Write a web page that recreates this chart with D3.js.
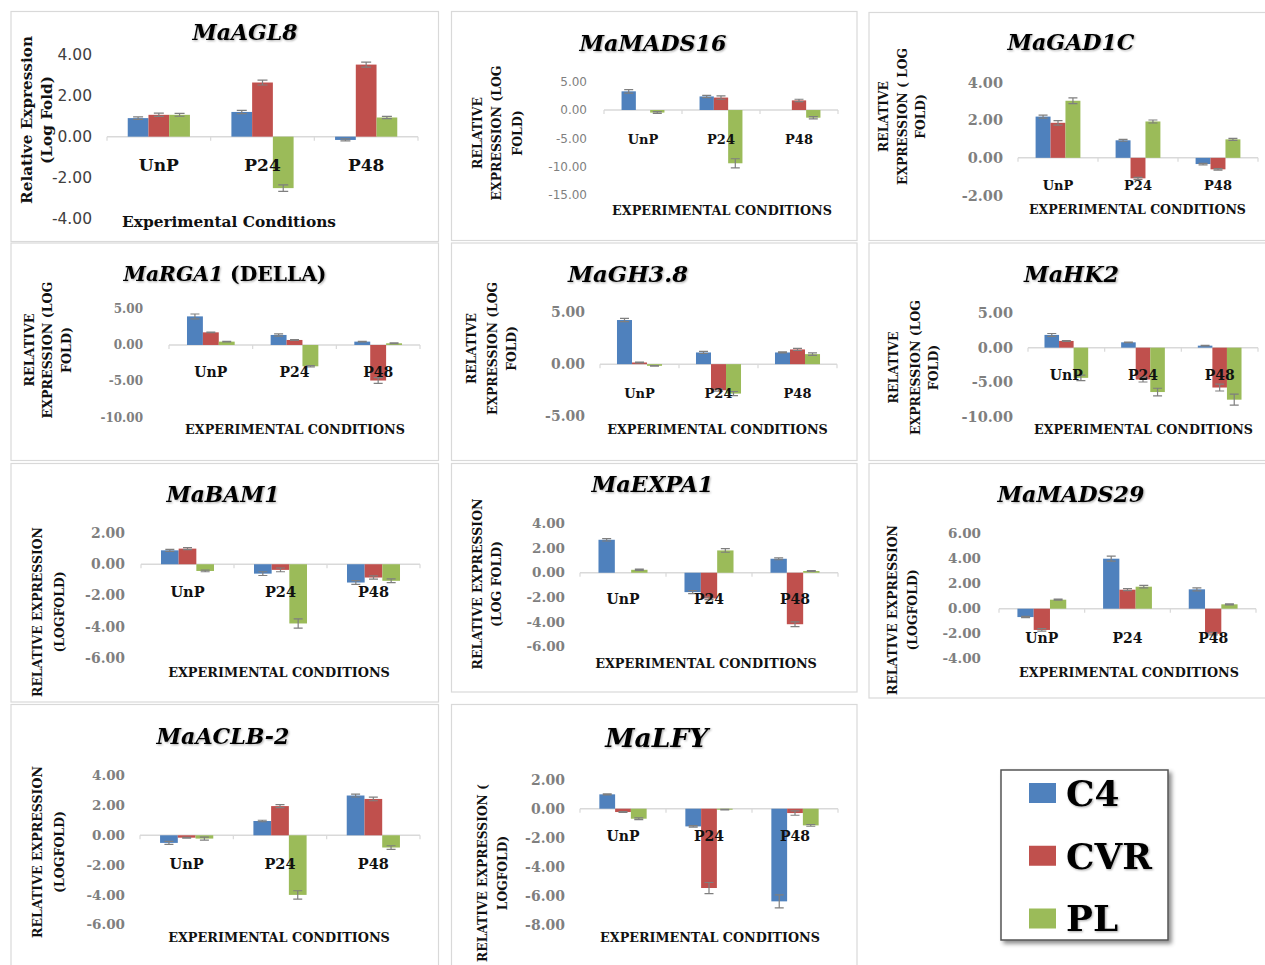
<!DOCTYPE html>
<html>
<head>
<meta charset="utf-8">
<script src="https://cdn.jsdelivr.net/npm/d3@7"></script>
<style>
  html, body { margin: 0; padding: 0; background: #ffffff; }
  svg { display: block; }
</style>
</head>
<body>
<svg id="chart" width="1265" height="965"></svg>
<script>
// Conditions (x categories) and treatment series
const conditions = ["UnP", "P24", "P48"];
const seriesNames = ["C4", "CVR", "PL"];
const seriesColors = ["#4F81BD", "#C0504D", "#9BBB59"];

// Relative expression (log fold). Rows: C4, CVR, PL; columns: UnP, P24, P48
const MaAGL8      = [[0.90, 1.20, -0.16], [1.06, 2.63, 3.50], [1.06, -2.50, 0.93]];
const MaAGL8Err   = [[0.06, 0.08, 0.05], [0.08, 0.12, 0.12], [0.07, 0.16, 0.05]];
const MaAGL8Ticks = [4, 2, 0, -2, -4];

const MaMADS16      = [[3.30, 2.40, 0.00], [0.00, 2.20, 1.70], [-0.45, -9.40, -1.35]];
const MaMADS16Err   = [[0.30, 0.20, 0.00], [0.00, 0.30, 0.20], [0.15, 0.80, 0.20]];
const MaMADS16Ticks = [5, 0, -5, -10, -15];

const MaGAD1C      = [[2.19, 0.93, -0.33], [1.86, -1.09, -0.61], [3.03, 1.93, 0.98]];
const MaGAD1CErr   = [[0.08, 0.05, 0.04], [0.12, 0.05, 0.04], [0.15, 0.08, 0.05]];
const MaGAD1CTicks = [4, 2, 0, -2];

const MaRGA1      = [[3.94, 1.38, 0.46], [1.74, 0.69, -4.90], [0.46, -2.94, 0.23]];
const MaRGA1Err   = [[0.33, 0.15, 0.05], [0.05, 0.05, 0.40], [0.05, 0.10, 0.05]];
const MaRGA1Ticks = [5, 0, -5, -10];

const MaGH38      = [[4.23, 1.12, 1.12], [0.16, -2.50, 1.41], [-0.16, -2.82, 0.96]];
const MaGH38Err   = [[0.15, 0.10, 0.05], [0.03, 0.10, 0.10], [0.03, 0.20, 0.12]];
const MaGH38Ticks = [5, 0, -5];

const MaHK2      = [[1.84, 0.77, 0.29], [0.97, -4.60, -5.75], [-4.35, -6.40, -7.50]];
const MaHK2Err   = [[0.20, 0.05, 0.03], [0.05, 0.35, 0.50], [0.40, 0.55, 0.80]];
const MaHK2Ticks = [5, 0, -5, -10];

const MaBAM1      = [[0.89, -0.60, -1.17], [1.00, -0.36, -0.85], [-0.43, -3.79, -1.06]];
const MaBAM1Err   = [[0.06, 0.12, 0.12], [0.06, 0.12, 0.10], [0.05, 0.30, 0.12]];
const MaBAM1Ticks = [2, 0, -2, -4, -6];

const MaEXPA1      = [[2.69, -1.58, 1.14], [0.00, -2.10, -4.20], [0.24, 1.82, 0.14]];
const MaEXPA1Err   = [[0.10, 0.12, 0.08], [0.00, 0.10, 0.20], [0.05, 0.15, 0.03]];
const MaEXPA1Ticks = [4, 2, 0, -2, -4, -6];

const MaMADS29      = [[-0.67, 4.00, 1.55], [-1.70, 1.52, -2.00], [0.72, 1.76, 0.35]];
const MaMADS29Err   = [[0.05, 0.20, 0.12], [0.10, 0.08, 0.10], [0.04, 0.10, 0.04]];
const MaMADS29Ticks = [6, 4, 2, 0, -2, -4];

const MaACLB2      = [[-0.51, 0.96, 2.67], [-0.16, 1.96, 2.44], [-0.22, -4.00, -0.82]];
const MaACLB2Err   = [[0.10, 0.05, 0.10], [0.03, 0.10, 0.12], [0.10, 0.28, 0.12]];
const MaACLB2Ticks = [4, 2, 0, -2, -4, -6];

const MaLFY      = [[0.99, -1.22, -6.39], [-0.23, -5.47, -0.30], [-0.69, -0.07, -1.15]];
const MaLFYErr   = [[0.03, 0.05, 0.45], [0.03, 0.38, 0.15], [0.06, 0.02, 0.06]];
const MaLFYTicks = [2, 0, -2, -4, -6, -8];

const genes = [
  { title: [["MaAGL8", true]],                     mean: MaAGL8,   err: MaAGL8Err,   ticks: MaAGL8Ticks },
  { title: [["MaMADS16", true]],                   mean: MaMADS16, err: MaMADS16Err, ticks: MaMADS16Ticks },
  { title: [["MaGAD1C", true]],                    mean: MaGAD1C,  err: MaGAD1CErr,  ticks: MaGAD1CTicks },
  { title: [["MaRGA1", true], [" (DELLA)", false]], mean: MaRGA1,  err: MaRGA1Err,   ticks: MaRGA1Ticks },
  { title: [["MaGH3.8", true]],                    mean: MaGH38,   err: MaGH38Err,   ticks: MaGH38Ticks },
  { title: [["MaHK2", true]],                      mean: MaHK2,    err: MaHK2Err,    ticks: MaHK2Ticks },
  { title: [["MaBAM1", true]],                     mean: MaBAM1,   err: MaBAM1Err,   ticks: MaBAM1Ticks },
  { title: [["MaEXPA1", true]],                    mean: MaEXPA1,  err: MaEXPA1Err,  ticks: MaEXPA1Ticks },
  { title: [["MaMADS29", true]],                   mean: MaMADS29, err: MaMADS29Err, ticks: MaMADS29Ticks },
  { title: [["MaACLB-2", true]],                   mean: MaACLB2,  err: MaACLB2Err,  ticks: MaACLB2Ticks },
  { title: [["MaLFY", true]],                      mean: MaLFY,    err: MaLFYErr,    ticks: MaLFYTicks }
];

// Panel layout: frame, plot ranges, and text placement
const SERIF = "'DejaVu Serif', serif";
const SANS = "'DejaVu Sans', sans-serif";
const UP3 = ["RELATIVE", "EXPRESSION (LOG", "FOLD)"];
const XT = "EXPERIMENTAL CONDITIONS";
const panels = [
  { box: [11, 11.5, 438.5, 241.5], xr: [107, 418], yr: [219, 54.3], group: 0.6, cap: 10,
    tick: { right: 92, font: SANS, size: 15.5, weight: "normal", color: "#404040" },
    cat: { y: 165, size: 17 }, title: { x: 245, y: 32.5, w: 105 },
    ylab: { lines: ["Relative Expression", "(Log Fold)"], xs: [27, 47], cy: 120, fit: 0, len: 168 },
    xt: { text: "Experimental Conditions", x: 229, y: 222, w: 214 } },
  { box: [451.5, 11.5, 857, 240.5], xr: [604, 838], yr: [195, 81.7], group: 0.55, cap: 9,
    tick: { right: 587, font: SANS, size: 12, weight: "normal", color: "#7f7f7f" },
    cat: { y: 139, size: 13 }, title: { x: 653, y: 43, w: 147 },
    ylab: { lines: UP3, xs: [478, 497, 518], cy: 133, fit: 1, len: 135 },
    xt: { text: XT, x: 722, y: 211, w: 220 } },
  { box: [869, 12.5, 1275, 240.5], xr: [1018, 1258], yr: [195.5, 82.5], group: 0.56, cap: 9,
    tick: { right: 1003, font: SERIF, size: 14.5, weight: "bold", color: "#7f7f7f" },
    cat: { y: 185.7, size: 13 }, title: { x: 1071, y: 42.7, w: 127 },
    ylab: { lines: ["RELATIVE", "EXPRESSION ( LOG", "FOLD)"], xs: [884, 903, 921], cy: 116.5, fit: 1, len: 137 },
    xt: { text: XT, x: 1137.5, y: 210, w: 217 } },
  { box: [11, 243, 438.5, 460.5], xr: [169, 420], yr: [417.5, 308.7], group: 0.57, cap: 9,
    tick: { right: 143, font: SERIF, size: 12, weight: "bold", color: "#7f7f7f" },
    cat: { y: 372, size: 14 }, title: { x: 225, y: 274, w: 203 },
    ylab: { lines: UP3, xs: [30, 48, 67], cy: 350, fit: 1, len: 137 },
    xt: { text: XT, x: 295, y: 430, w: 220 } },
  { box: [451.5, 243, 857, 460.5], xr: [600, 837], yr: [416.3, 312], group: 0.57, cap: 9,
    tick: { right: 585, font: SERIF, size: 14, weight: "bold", color: "#7f7f7f" },
    cat: { y: 393.7, size: 13 }, title: { x: 628, y: 274.5, w: 120 },
    ylab: { lines: UP3, xs: [472, 493, 512], cy: 348.5, fit: 1, len: 133 },
    xt: { text: XT, x: 717.5, y: 430, w: 221 } },
  { box: [869, 243, 1275, 460.5], xr: [1028, 1258], yr: [417, 313], group: 0.57, cap: 9,
    tick: { right: 1013, font: SERIF, size: 14.5, weight: "bold", color: "#7f7f7f" },
    cat: { y: 375.3, size: 14 }, title: { x: 1071.5, y: 274.5, w: 95 },
    ylab: { lines: UP3, xs: [894, 916, 934], cy: 367.5, fit: 1, len: 135 },
    xt: { text: XT, x: 1143.5, y: 430, w: 219 } },
  { box: [11, 463.5, 438.5, 702], xr: [141, 420], yr: [658, 533], group: 0.57, cap: 9,
    tick: { right: 125, font: SERIF, size: 14, weight: "bold", color: "#7f7f7f" },
    cat: { y: 592, size: 14.5 }, title: { x: 223, y: 494.5, w: 113 },
    ylab: { lines: ["RELATIVE EXPRESSION", "(LOGFOLD)"], xs: [38, 60], cy: 612, fit: 0, len: 170 },
    xt: { text: XT, x: 279, y: 672.7, w: 222 } },
  { box: [451.5, 463.5, 857, 692], xr: [580, 838], yr: [646.3, 523.7], group: 0.57, cap: 9,
    tick: { right: 565, font: SERIF, size: 13.5, weight: "bold", color: "#7f7f7f" },
    cat: { y: 599.3, size: 14 }, title: { x: 652.5, y: 484.5, w: 122 },
    ylab: { lines: ["RELATIVE EXPRESSION", "(LOG FOLD)"], xs: [478, 497], cy: 584, fit: 0, len: 171 },
    xt: { text: XT, x: 706, y: 663.7, w: 222 } },
  { box: [869, 463.5, 1275, 698], xr: [999, 1256], yr: [658.7, 533.7], group: 0.57, cap: 9,
    tick: { right: 981, font: SERIF, size: 13.5, weight: "bold", color: "#7f7f7f" },
    cat: { y: 637.7, size: 14 }, title: { x: 1071, y: 494, w: 147 },
    ylab: { lines: ["RELATIVE EXPRESSION", "(LOGFOLD)"], xs: [893, 913], cy: 610, fit: 0, len: 170 },
    xt: { text: XT, x: 1129, y: 672.7, w: 220 } },
  { box: [11, 704.5, 438.5, 975], xr: [140, 420], yr: [924.7, 775.7], group: 0.57, cap: 9,
    tick: { right: 125, font: SERIF, size: 13.5, weight: "bold", color: "#7f7f7f" },
    cat: { y: 863.7, size: 14.5 }, title: { x: 223, y: 736.3, w: 133 },
    ylab: { lines: ["RELATIVE EXPRESSION", "(LOGFOLD)"], xs: [38, 60], cy: 852, fit: 0, len: 172 },
    xt: { text: XT, x: 279, y: 938, w: 222 } },
  { box: [451.5, 704.5, 857, 975], xr: [580, 838], yr: [924.7, 779.7], group: 0.55, cap: 9,
    tick: { right: 565, font: SERIF, size: 14, weight: "bold", color: "#7f7f7f" },
    cat: { y: 836.3, size: 14 }, title: { x: 656.7, y: 737.5, w: 103 },
    ylab: { lines: ["RELATIVE EXPRESSION (", "LOGFOLD)"], xs: [483, 503], cy: 873, fit: 0, len: 178 },
    xt: { text: XT, x: 710, y: 938, w: 220 } }
];

const svg = d3.select("#chart");
const defs = svg.append("defs");
const shadow = defs.append("filter").attr("id", "boxShadow")
  .attr("x", "-10%").attr("y", "-10%").attr("width", "130%").attr("height", "130%");
shadow.append("feDropShadow").attr("dx", 3).attr("dy", 3).attr("stdDeviation", 2)
  .attr("flood-color", "#000").attr("flood-opacity", 0.45);
const tshadow = defs.append("filter").attr("id", "textShadow")
  .attr("x", "-5%").attr("y", "-20%").attr("width", "115%").attr("height", "150%");
tshadow.append("feDropShadow").attr("dx", 1).attr("dy", 1).attr("stdDeviation", 0.8)
  .attr("flood-color", "#000").attr("flood-opacity", 0.35);

// scale a text element's font size so that its rendered width matches `target`
function fitWidth(sel, target) {
  const w = sel.node().getComputedTextLength();
  const fs = parseFloat(sel.attr("font-size"));
  if (w > 0) sel.attr("font-size", fs * target / w);
  return parseFloat(sel.attr("font-size"));
}

const fmt = v => v.toFixed(2);

panels.forEach((p, i) => {
  const gene = genes[i];
  const g = svg.append("g");

  // panel frame
  g.append("rect")
    .attr("x", p.box[0]).attr("y", p.box[1])
    .attr("width", p.box[2] - p.box[0]).attr("height", p.box[3] - p.box[1])
    .attr("fill", "#ffffff").attr("stroke", "#d9d9d9").attr("stroke-width", 1.2);

  const x = d3.scaleBand().domain(conditions).range(p.xr).paddingInner(0).paddingOuter(0);
  const y = d3.scaleLinear().domain([d3.min(gene.ticks), d3.max(gene.ticks)]).range(p.yr);
  const groupW = x.bandwidth() * p.group;
  const inner = d3.scaleBand().domain(seriesNames).range([0, groupW]);
  const offset = (x.bandwidth() - groupW) / 2;

  // y tick labels
  g.append("g").selectAll("text").data(gene.ticks).join("text")
    .attr("x", p.tick.right).attr("y", d => y(d)).attr("dy", "0.35em")
    .attr("text-anchor", "end")
    .attr("font-family", p.tick.font).attr("font-size", p.tick.size)
    .attr("font-weight", p.tick.weight).attr("fill", p.tick.color)
    .text(fmt);

  // horizontal category axis at zero with boundary tick marks
  const y0 = y(0);
  g.append("line").attr("x1", p.xr[0]).attr("x2", p.xr[1]).attr("y1", y0).attr("y2", y0)
    .attr("stroke", "#d9d9d9").attr("stroke-width", 1.5);
  const bounds = conditions.map(c => x(c)).concat([x(conditions[2]) + x.bandwidth()]);
  g.append("g").selectAll("line").data(bounds).join("line")
    .attr("x1", d => d).attr("x2", d => d).attr("y1", y0).attr("y2", y0 + 4)
    .attr("stroke", "#d9d9d9").attr("stroke-width", 1.2);

  // bar records
  const recs = [];
  seriesNames.forEach((s, si) => {
    conditions.forEach((c, ci) => {
      recs.push({ s, si, c, v: gene.mean[si][ci], e: gene.err[si][ci] });
    });
  });

  g.append("g").selectAll("rect").data(recs).join("rect")
    .attr("x", d => x(d.c) + offset + inner(d.s))
    .attr("width", inner.bandwidth())
    .attr("y", d => Math.min(y(d.v), y0))
    .attr("height", d => Math.abs(y(d.v) - y0))
    .attr("fill", d => seriesColors[d.si]);

  // error bars
  const eg = g.append("g").attr("stroke", "#7f7f7f").attr("stroke-width", 1.2).attr("fill", "none");
  recs.filter(d => d.e > 0).forEach(d => {
    const cx = x(d.c) + offset + inner(d.s) + inner.bandwidth() / 2;
    const ya = y(d.v + d.e), yb = y(d.v - d.e);
    const hw = p.cap / 2;
    eg.append("path")
      .attr("d", `M${cx},${ya}V${yb}M${cx - hw},${ya}H${cx + hw}M${cx - hw},${yb}H${cx + hw}`);
  });

  // category labels
  g.append("g").selectAll("text").data(conditions).join("text")
    .attr("x", d => x(d) + x.bandwidth() / 2).attr("y", p.cat.y).attr("dy", "0.35em")
    .attr("text-anchor", "middle")
    .attr("font-family", SERIF).attr("font-weight", "bold").attr("font-size", p.cat.size)
    .attr("fill", "#111").text(d => d);

  // chart title
  const title = g.append("text")
    .attr("x", p.title.x).attr("y", p.title.y).attr("dy", "0.35em")
    .attr("text-anchor", "middle").attr("font-family", SERIF).attr("font-weight", "bold")
    .attr("font-size", 24).attr("fill", "#000").attr("filter", "url(#textShadow)");
  gene.title.forEach(([t, italic]) => {
    title.append("tspan").attr("font-style", italic ? "italic" : "normal").text(t);
  });
  fitWidth(title, p.title.w);

  // y axis title (rotated, one text per line)
  const yl = p.ylab;
  const ltexts = yl.lines.map((line, li) =>
    g.append("text")
      .attr("transform", `translate(${yl.xs[li]},${yl.cy}) rotate(-90)`)
      .attr("dy", "0.35em").attr("text-anchor", "middle")
      .attr("font-family", SERIF).attr("font-weight", "bold").attr("font-size", 12)
      .attr("fill", "#111").text(line));
  const fs = fitWidth(ltexts[yl.fit], yl.len);
  ltexts.forEach(t => t.attr("font-size", fs));

  // x axis title
  const xt = g.append("text")
    .attr("x", p.xt.x).attr("y", p.xt.y).attr("dy", "0.35em").attr("text-anchor", "middle")
    .attr("font-family", SERIF).attr("font-weight", "bold").attr("font-size", 13)
    .attr("fill", "#111").text(p.xt.text);
  fitWidth(xt, p.xt.w);
});

// legend
const lg = svg.append("g");
lg.append("rect").attr("x", 1001).attr("y", 770).attr("width", 167).attr("height", 170)
  .attr("fill", "#ffffff").attr("stroke", "#555555").attr("stroke-width", 1.5)
  .attr("filter", "url(#boxShadow)");
const legendY = d3.scalePoint().domain(seriesNames).range([793, 918.5]);
lg.selectAll("rect.sw").data(seriesNames).join("rect").attr("class", "sw")
  .attr("x", 1029).attr("y", d => legendY(d) - 10).attr("width", 27).attr("height", 20)
  .attr("fill", (d, i) => seriesColors[i]);
const ltx = lg.selectAll("text").data(seriesNames).join("text")
  .attr("x", 1066).attr("y", d => legendY(d)).attr("dy", "0.36em")
  .attr("font-family", SERIF).attr("font-weight", "bold").attr("font-size", 34)
  .attr("fill", "#000").attr("filter", "url(#textShadow)").text(d => d);
const cvr = ltx.filter(d => d === "CVR");
const lfs = fitWidth(cvr, 86);
ltx.attr("font-size", lfs);
</script>
</body>
</html>
